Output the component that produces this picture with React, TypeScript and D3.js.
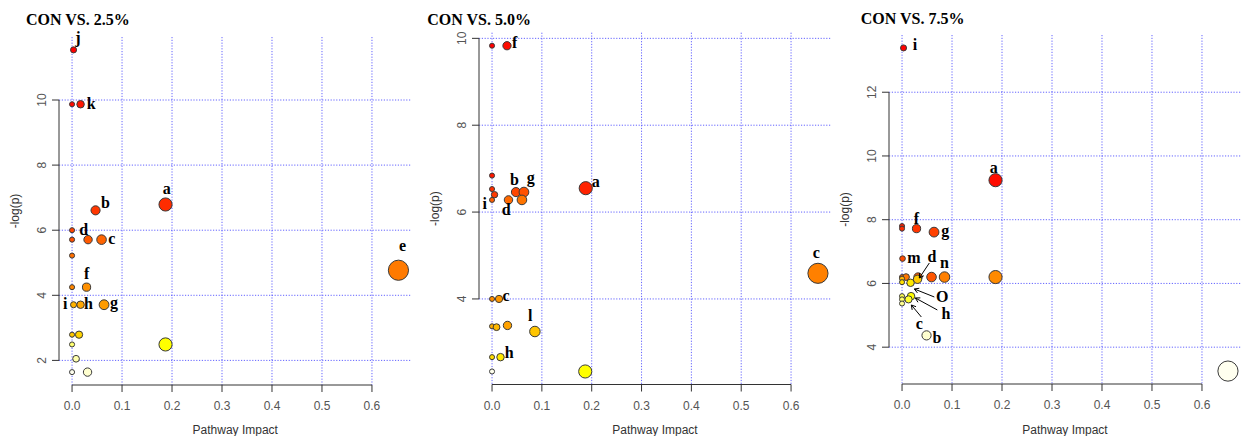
import React from "react";
import * as d3 from "d3";

// ---------- DATA ----------
// Panel 1: CON VS. 2.5%
const p1Impact = [0.003, 0, 0.017, 0.187, 0.047, 0, 0, 0.032, 0.059, 0, 0.653, 0, 0.029, 0.064, 0.003, 0.017, 0, 0.014, 0.187, 0, 0.008, 0.031, 0];
const p1LogP = [11.54, 9.87, 9.87, 6.79, 6.61, 6.0, 5.71, 5.71, 5.71, 5.22, 4.77, 4.25, 4.25, 3.71, 3.71, 3.71, 2.79, 2.79, 2.49, 2.49, 2.05, 1.64, 1.64];
const p1Rank = [0, 1, 2, 4, 5, 6, 7, 8, 9, 10, 11, 12, 13, 14, 16, 15, 18, 19, 23, 27, 29, 30, 31];
const p1Labels = ["j", "", "k", "a", "b", "d", "", "", "c", "", "e", "", "f", "g", "i", "h", "", "", "", "", "", "", ""];
const p1Total = 32;

// Panel 2: CON VS. 5.0%
const p2Impact = [0, 0.03, 0, 0.188, 0, 0.005, 0.048, 0.064, 0, 0.033, 0.06, 0.654, 0, 0.014, 0.031, 0, 0.009, 0.086, 0, 0.017, 0.187, 0];
const p2LogP = [9.83, 9.83, 6.84, 6.55, 6.53, 6.4, 6.46, 6.46, 6.28, 6.28, 6.28, 4.59, 4.0, 4.0, 3.39, 3.37, 3.35, 3.25, 2.66, 2.66, 2.33, 2.33];
const p2Rank = [0, 1, 2, 3, 4, 5, 6, 7, 8, 9, 10, 11, 12, 13, 14, 15, 16, 17, 19, 20, 22, 29];
const p2Labels = ["", "f", "", "a", "", "", "b", "g", "i", "d", "", "c", "", "c", "", "", "", "l", "", "h", "", ""];
const p2Total = 30;

// Panel 3: CON VS. 7.5%
const p3Impact = [0.003, 0.187, 0, 0, 0.029, 0.064, 0.001, 0.059, 0.032, 0, 0.008, 0.085, 0.187, 0, 0.031, 0, 0.017, 0.018, 0.013, 0, 0, 0, 0.049, 0.652];
const p3LogP = [13.39, 9.24, 7.8, 7.72, 7.72, 7.61, 6.78, 6.2, 6.2, 6.2, 6.2, 6.2, 6.2, 6.15, 6.13, 6.04, 6.02, 5.6, 5.5, 5.6, 5.5, 5.37, 4.37, 3.25];
const p3Rank = [0, 1, 3, 4, 5, 6, 7, 8, 9, 10, 11, 12, 13, 17, 19, 21, 22, 24, 26, 27, 28, 29, 31, 32];
const p3Labels = ["i", "a", "", "", "f", "g", "m", "", "", "", "", "n", "", "", "d", "", "O", "h", "c", "", "", "", "b", ""];
const p3Total = 33;

const titles = ["CON VS. 2.5%", "CON VS. 5.0%", "CON VS. 7.5%"];
const xTitle = "Pathway Impact";
const yTitle = "-log(p)";

// ---------- LAYOUT / STYLE ----------
type Off = { dx: number; dy: number; arrow?: [number, number, number, number] };
const layout = [
  {
    box: { left: 59, right: 411.5, top: 37, bottom: 385 },
    titleX: 26, titleY: 25,
    offsets: {
      0: { dx: 4.4, dy: -7 }, 2: { dx: 10.7, dy: 4.7 }, 3: { dx: 1.3, dy: -10.7 }, 4: { dx: 9.8, dy: -2.4 },
      5: { dx: 11.6, dy: 4.7 }, 8: { dx: 10.3, dy: 4.3 }, 10: { dx: 4, dy: -19 }, 12: { dx: 0, dy: -8.4 },
      13: { dx: 10, dy: 3 }, 14: { dx: -8.3, dy: 4 }, 15: { dx: 8, dy: 4 },
    } as Record<number, Off>,
  },
  {
    box: { left: 479, right: 831, top: 32.7, bottom: 384.5 },
    titleX: 427.3, titleY: 25,
    offsets: {
      1: { dx: 7.6, dy: 2.6 }, 3: { dx: 10, dy: -1.6 }, 6: { dx: -1.4, dy: -6.6 }, 7: { dx: 6.8, dy: -9 },
      8: { dx: -7.2, dy: 9.3 }, 9: { dx: -2.2, dy: 15 }, 11: { dx: -1.6, dy: -15 }, 13: { dx: 7, dy: 1.7 },
      17: { dx: -4.7, dy: -11 }, 19: { dx: 8.8, dy: 1 },
    } as Record<number, Off>,
  },
  {
    box: { left: 889, right: 1241, top: 35, bottom: 384 },
    titleX: 860.7, titleY: 24,
    offsets: {
      0: { dx: 11.4, dy: 1.7 }, 1: { dx: -1.7, dy: -6.7 }, 4: { dx: 0, dy: -4.3 }, 5: { dx: 11.3, dy: 4 },
      6: { dx: 11.5, dy: 4 }, 11: { dx: 0, dy: -9.4 },
      14: { dx: 14.5, dy: -17.6, arrow: [11.8, -16.3, 1.8, -1.3] },
      16: { dx: 31.8, dy: 19.5, arrow: [23.8, 14.2, 3.8, 6.2] },
      17: { dx: 34.8, dy: 22.8, arrow: [26.3, 13.8, 4.3, 1.8] },
      18: { dx: 10.8, dy: 29.6, arrow: [12.8, 17.6, 2.8, 5.6] },
      22: { dx: 10.3, dy: 8 },
    } as Record<number, Off>,
  },
];

const panelsData = [
  { impact: p1Impact, logp: p1LogP, rank: p1Rank, labels: p1Labels, total: p1Total },
  { impact: p2Impact, logp: p2LogP, rank: p2Rank, labels: p2Labels, total: p2Total },
  { impact: p3Impact, logp: p3LogP, rank: p3Rank, labels: p3Labels, total: p3Total },
];

// R's heat.colors(n)[k]
function heatColor(k: number, n: number): string {
  const j = Math.floor(n / 4);
  const i = n - j;
  if (k < i) {
    const h = i > 1 ? (k / (i - 1)) / 6 : 0;
    return d3.rgb(255, Math.round(255 * h * 6), 0).formatHex();
  }
  const m = k - i;
  const s = 1 - 1 / (2 * j) - (j > 1 ? (m * (1 - 1 / j)) / (j - 1) : 0);
  return d3.rgb(255, 255, Math.round(255 * (1 - s))).formatHex();
}

function extend(lo: number, hi: number): [number, number] {
  const e = (hi - lo) * 0.04;
  return [lo - e, hi + e];
}

const SANS = "'Liberation Sans', Arial, sans-serif";
const SERIF = "'Liberation Serif', 'Times New Roman', serif";
const GRID = "#4a4aff";
const AXIS = "#333";
const TICKTXT = "#555";

function Panel({ idx }: { idx: number }) {
  const d = panelsData[idx];
  const L = layout[idx];
  const { left, right, top, bottom } = L.box;
  const xs = d3.scaleLinear().domain(extend(d3.min(d.impact)!, d3.max(d.impact)!)).range([left, right]);
  const ys = d3.scaleLinear().domain(extend(d3.min(d.logp)!, d3.max(d.logp)!)).range([bottom, top]);
  const xt = xs.ticks(7);
  const yt = ys.ticks(5);

  const sq = d.impact.map((v) => Math.sqrt(v));
  const minX = d3.min(sq)!;
  const maxX = d3.max(sq)!;
  const maxR = (maxX - minX) / 40;
  const minR = (maxX - minX) / 160;
  const pxPerUnit = xs(1) - xs(0);

  const pts = d.impact.map((v, i) => ({
    i,
    cx: xs(v),
    cy: ys(d.logp[i]),
    r: (minR + ((maxR - minR) * (sq[i] - minX)) / (maxX - minX)) * pxPerUnit,
    fill: heatColor(d.rank[i], d.total),
    rank: d.rank[i],
    label: d.labels[i],
  }));
  const drawOrder = [...pts].sort((a, b) => a.rank - b.rank);

  const midX = (left + right) / 2;
  const midY = (top + bottom) / 2;

  return (
    <g>
      <text x={L.titleX} y={L.titleY} fontFamily={SERIF} fontWeight="bold" fontSize={16} fill="#000">
        {titles[idx]}
      </text>
      {/* grid */}
      {xt.map((t) => (
        <line key={"gx" + t} x1={xs(t)} x2={xs(t)} y1={top} y2={bottom} stroke={GRID} strokeWidth={1} strokeDasharray="1.2 1.6" opacity={0.85} />
      ))}
      {yt.map((t) => (
        <line key={"gy" + t} x1={left} x2={right} y1={ys(t)} y2={ys(t)} stroke={GRID} strokeWidth={1} strokeDasharray="1.2 1.6" opacity={0.85} />
      ))}
      {/* x axis */}
      <line x1={xs(xt[0])} x2={xs(xt[xt.length - 1])} y1={bottom} y2={bottom} stroke={AXIS} strokeWidth={1} />
      {xt.map((t) => (
        <g key={"xt" + t}>
          <line x1={xs(t)} x2={xs(t)} y1={bottom} y2={bottom + 7} stroke={AXIS} strokeWidth={1} />
          <text x={xs(t)} y={bottom + 25.3} textAnchor="middle" fontFamily={SANS} fontSize={12} fill={TICKTXT}>
            {d3.format(".1f")(t)}
          </text>
        </g>
      ))}
      {/* y axis */}
      <line x1={left} x2={left} y1={ys(yt[0])} y2={ys(yt[yt.length - 1])} stroke={AXIS} strokeWidth={1} />
      {yt.map((t) => (
        <g key={"yt" + t}>
          <line x1={left - 7} x2={left} y1={ys(t)} y2={ys(t)} stroke={AXIS} strokeWidth={1} />
          <text transform={`translate(${left - 17.5},${ys(t)}) rotate(-90)`} textAnchor="middle" dy="0.35em" fontFamily={SANS} fontSize={12} fill={TICKTXT}>
            {t}
          </text>
        </g>
      ))}
      {/* axis titles */}
      <text x={midX} y={433.5} textAnchor="middle" fontFamily={SANS} fontSize={12} fill="#333">
        {xTitle}
      </text>
      <text transform={`translate(${left - 44},${midY}) rotate(-90)`} textAnchor="middle" dy="0.35em" fontFamily={SANS} fontSize={12} fill="#333">
        {yTitle}
      </text>
      {/* points */}
      {drawOrder.map((p) => (
        <circle key={"c" + p.i} cx={p.cx} cy={p.cy} r={p.r} fill={p.fill} stroke="#3a3a3a" strokeWidth={1} />
      ))}
      {/* labels */}
      {pts
        .filter((p) => p.label)
        .map((p) => {
          const o = L.offsets[p.i] || { dx: 10, dy: 4 };
          let arrow = null;
          if (o.arrow) {
            const [x1, y1, x2, y2] = o.arrow;
            const ax1 = p.cx + x1, ay1 = p.cy + y1, ax2 = p.cx + x2, ay2 = p.cy + y2;
            const ang = Math.atan2(ay2 - ay1, ax2 - ax1);
            const len = 5;
            const a1 = ang + Math.PI - Math.PI / 6;
            const a2 = ang + Math.PI + Math.PI / 6;
            arrow = (
              <g stroke="#000" strokeWidth={1} fill="none">
                <line x1={ax1} y1={ay1} x2={ax2} y2={ay2} />
                <polyline points={`${ax2 + len * Math.cos(a1)},${ay2 + len * Math.sin(a1)} ${ax2},${ay2} ${ax2 + len * Math.cos(a2)},${ay2 + len * Math.sin(a2)}`} />
              </g>
            );
          }
          return (
            <g key={"l" + p.i}>
              {arrow}
              <text x={p.cx + o.dx} y={p.cy + o.dy} textAnchor="middle" fontFamily={SERIF} fontWeight="bold" fontSize={16} fill="#000">
                {p.label}
              </text>
            </g>
          );
        })}
    </g>
  );
}

export default function App() {
  return (
    <div style={{ position: "absolute", left: 0, top: 0 }}>
      <svg width={1243} height={436} viewBox="0 0 1243 436" style={{ display: "block", background: "#fff" }}>
        <rect x={0} y={0} width={1243} height={436} fill="#fff" />
        {[0, 1, 2].map((i) => (
          <Panel key={i} idx={i} />
        ))}
      </svg>
    </div>
  );
}
